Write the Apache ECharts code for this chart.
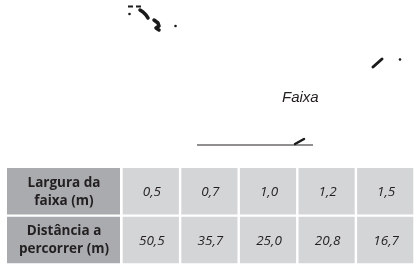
<!DOCTYPE html>
<html>
<head>
<meta charset="utf-8">
<script src="https://cdn.jsdelivr.net/npm/echarts@6/dist/echarts.min.js"></script>
<style>
html,body{margin:0;padding:0;background:#fff;}
#chart{width:415px;height:267px;}
</style>
</head>
<body>
<div id="chart"></div>
<script>
// ---- data ----
const rowHeaders = ['Largura da\nfaixa (m)', 'Distância a\npercorrer (m)'];
const larguras = [0.5, 0.7, 1.0, 1.2, 1.5];
const distancias = [50.5, 35.7, 25.0, 20.8, 16.7];
const caption = 'Faixa';

const fmt = v => v.toFixed(1).replace('.', ',');
const rowKeys = ['r0', 'r1'];
const colKeys = larguras.map((_, i) => 'c' + i);

const headerData = rowHeaders.map((t, r) => [0, r, t]);
const cellData = [];
[larguras, distancias].forEach((arr, r) => {
  arr.forEach((v, c) => cellData.push([c, r, fmt(v)]));
});

const chart = echarts.init(document.getElementById('chart'), null, { renderer: 'canvas' });

const headerRender = function (params, api) {
  const c = api.coord([api.value(0), api.value(1)]);
  const s = api.size([1, 1]);
  const text = headerData[params.dataIndex][2];
  return {
    type: 'group',
    children: [
      { type: 'rect', shape: { x: c[0] - s[0] / 2, y: c[1] - s[1] / 2 + 1.15, width: s[0], height: s[1] - 2.3 },
        style: { fill: '#a9abae' } },
      { type: 'text', style: { text: text, x: c[0] + 0.5, y: c[1] + 0.5, align: 'center', verticalAlign: 'middle',
        font: 'bold 13.5px "Open Sans"', fill: '#231f20', lineHeight: 18 } }
    ]
  };
};
const cellRender = function (params, api) {
  const c = api.coord([api.value(0), api.value(1)]);
  const s = api.size([1, 1]);
  const text = cellData[params.dataIndex][2];
  return {
    type: 'group',
    children: [
      { type: 'rect', shape: { x: c[0] - s[0] / 2 + 1.2, y: c[1] - s[1] / 2 + 1.15, width: s[0] - 2.4, height: s[1] - 2.3 },
        style: { fill: '#d4d5d7' } },
      { type: 'text', style: { text: text, x: c[0] + 1, y: c[1] + 1, align: 'center', verticalAlign: 'middle',
        font: 'italic 13.5px "Open Sans"', fill: '#231f20' } }
    ]
  };
};

const strokeStyle = { stroke: '#1a1a1a', lineWidth: 2.5, lineCap: 'round' };
const blob = { stroke: '#1a1a1a', lineWidth: 3.5, fill: null, lineCap: 'round', lineJoin: 'round' };

chart.setOption({
  animation: false,
  backgroundColor: '#ffffff',
  grid: [
    { left: 7, width: 113, top: 166.9, height: 97.4 },
    { left: 121.5, width: 293, top: 166.9, height: 97.4 }
  ],
  xAxis: [
    { type: 'category', gridIndex: 0, data: ['h'], show: false },
    { type: 'category', gridIndex: 1, data: colKeys, show: false }
  ],
  yAxis: [
    { type: 'category', gridIndex: 0, data: rowKeys, inverse: true, show: false },
    { type: 'category', gridIndex: 1, data: rowKeys, inverse: true, show: false }
  ],
  series: [
    { type: 'custom', xAxisIndex: 0, yAxisIndex: 0, data: headerData.map(d => [d[0], d[1]]), renderItem: headerRender, silent: true },
    { type: 'custom', xAxisIndex: 1, yAxisIndex: 1, data: cellData.map(d => [d[0], d[1]]), renderItem: cellRender, silent: true }
  ],
  graphic: [
    { type: 'text', left: 282, top: 90, style: { text: caption, font: 'italic 15px "Liberation Sans"', fill: '#231f20' } },
    { type: 'line', shape: { x1: 197, y1: 145, x2: 313, y2: 145 }, style: { stroke: '#231f20', lineWidth: 1 } },
    { type: 'line', shape: { x1: 295, y1: 144, x2: 304, y2: 139 }, style: strokeStyle },
    // top scribbles
    { type: 'line', shape: { x1: 128, y1: 6.5, x2: 133, y2: 6.5 }, style: { stroke: '#1a1a1a', lineWidth: 2 } },
    { type: 'line', shape: { x1: 136, y1: 6.5, x2: 141, y2: 6.5 }, style: { stroke: '#1a1a1a', lineWidth: 2 } },
    { type: 'circle', shape: { cx: 129.5, cy: 14, r: 1.3 }, style: { fill: '#1a1a1a' } },
    { type: 'polyline', shape: { points: [[140, 10], [143, 12], [146, 15], [148, 18]] }, style: blob },
    { type: 'polyline', shape: { points: [[154, 20], [158, 23], [159, 26], [156, 28], [159, 30]] }, style: blob },
    { type: 'circle', shape: { cx: 175.5, cy: 26, r: 1.3 }, style: { fill: '#1a1a1a' } },
    { type: 'line', shape: { x1: 373, y1: 67, x2: 382, y2: 59 }, style: { stroke: '#1a1a1a', lineWidth: 3, lineCap: 'round' } },
    { type: 'circle', shape: { cx: 400, cy: 59.5, r: 1.3 }, style: { fill: '#1a1a1a' } }
  ]
});
</script>
</body>
</html>
